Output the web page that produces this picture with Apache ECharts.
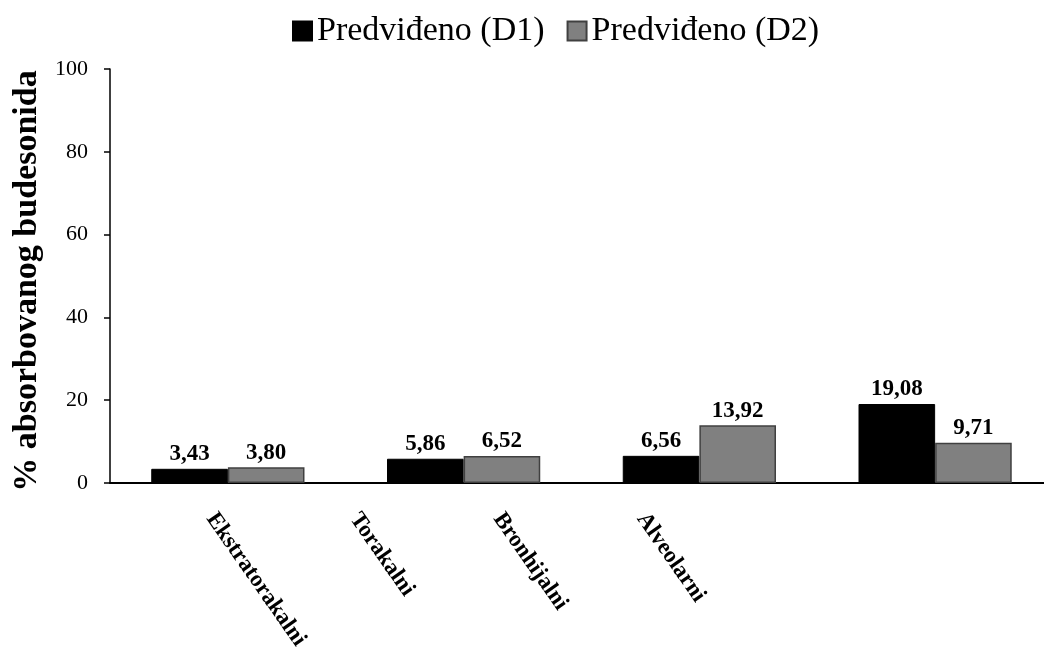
<!DOCTYPE html>
<html>
<head>
<meta charset="utf-8">
<script src="https://cdn.jsdelivr.net/npm/echarts@6/dist/echarts.min.js"></script>
<style>
html,body{margin:0;padding:0;background:#fff;}
#chart{width:1044px;height:647px;}
</style>
</head>
<body>
<div id="chart"></div>
<script>
const categories = ['Ekstratorakalni', 'Torakalni', 'Bronhijalni', 'Alveolarni'];
const seriesNames = ['Predviđeno (D1)', 'Predviđeno (D2)'];
const valuesD1 = [3.43, 5.86, 6.56, 19.08];
const valuesD2 = [3.80, 6.52, 13.92, 9.71];
const yTicks = [0, 20, 40, 60, 80, 100];
const yTitle = '% absorbovanog budesonida';

const FONT = '"Liberation Serif", "Times New Roman", serif';
const fmt = p => p.value.toFixed(2).replace('.', ',');

const chart = echarts.init(document.getElementById('chart'), null, {renderer: 'canvas'});
chart.setOption({
  backgroundColor: '#ffffff',
  animation: false,
  legend: {
    top: 9,
    left: 287,
    itemWidth: 19,
    itemHeight: 19,
    itemGap: 22,
    icon: 'rect',
    textStyle: {fontFamily: FONT, fontSize: 34, color: '#000'},
    data: seriesNames
  },
  grid: [
    {left: 110, top: 69, bottom: 164, width: 943, containLabel: false, outerBoundsMode: 'none'},
    {left: 139, top: 69, bottom: 164, width: 574, containLabel: false, outerBoundsMode: 'none'}
  ],
  xAxis: [
    {
      type: 'category', gridIndex: 0, data: categories,
      axisLine: {lineStyle: {color: '#000', width: 2}},
      axisTick: {show: false},
      axisLabel: {show: false}
    },
    {
      type: 'category', gridIndex: 1, data: categories,
      axisLine: {show: false},
      axisTick: {show: false},
      axisLabel: {
        rotate: -55, margin: 32, interval: 0,
        fontFamily: FONT, fontSize: 23, fontWeight: 'bold', color: '#000'
      }
    }
  ],
  yAxis: [
    {
      type: 'value', gridIndex: 0,
      min: yTicks[0], max: yTicks[yTicks.length - 1], interval: yTicks[1] - yTicks[0],
      axisLine: {show: true, lineStyle: {color: '#000', width: 1.5}},
      axisTick: {show: true, inside: false, length: 6, lineStyle: {color: '#000', width: 1.5}},
      splitLine: {show: false},
      axisLabel: {fontFamily: FONT, fontSize: 22, color: '#000', margin: 22},
      name: yTitle,
      nameLocation: 'middle',
      nameGap: 57,
      nameRotate: 90,
      nameTextStyle: {fontFamily: FONT, fontSize: 34, fontWeight: 'bold', color: '#000', padding: [0, 10, 0, 0]}
    },
    {
      type: 'value', gridIndex: 1, show: false, min: 0, max: 100
    }
  ],
  series: [
    {
      name: seriesNames[0], type: 'bar', xAxisIndex: 0, yAxisIndex: 0,
      data: valuesD1,
      barGap: '0%', barCategoryGap: '35%',
      itemStyle: {color: '#000000', borderColor: '#000000', borderWidth: 1},
      label: {show: true, position: 'top', distance: 3, formatter: fmt,
        fontFamily: FONT, fontSize: 23, fontWeight: 'bold', color: '#000'}
    },
    {
      name: seriesNames[1], type: 'bar', xAxisIndex: 0, yAxisIndex: 0,
      data: valuesD2,
      barGap: '0%', barCategoryGap: '35%',
      itemStyle: {color: '#808080', borderColor: '#404040', borderWidth: 1.5},
      label: {show: true, position: 'top', distance: 3, formatter: fmt,
        fontFamily: FONT, fontSize: 23, fontWeight: 'bold', color: '#000'}
    }
  ]
});
</script>
</body>
</html>
